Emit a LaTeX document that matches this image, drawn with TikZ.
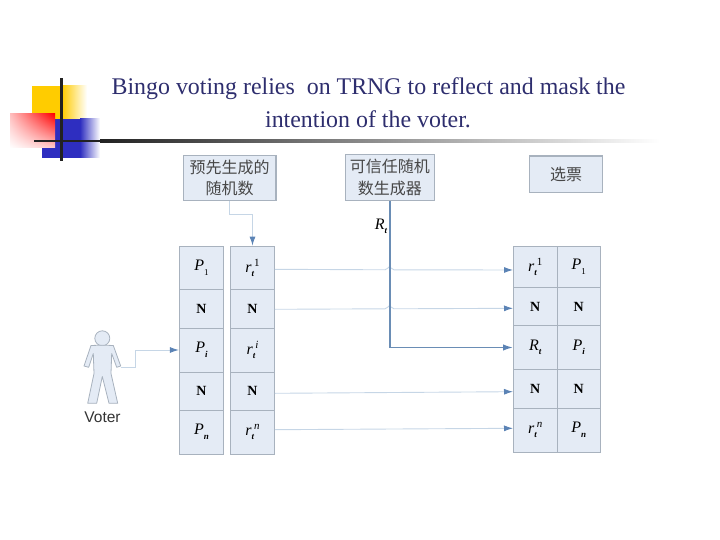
\documentclass[tikz,border=0pt]{standalone}
\usepackage{fontspec}
\setmainfont{Liberation Serif}
\newfontfamily\cjk{Noto Sans CJK SC}
\newfontfamily\lsans{Liberation Sans}
\usetikzlibrary{arrows.meta,shadings}
\definecolor{titleblue}{HTML}{2E2E6E}
\definecolor{cellfill}{HTML}{E4EBF5}
\definecolor{cellline}{HTML}{A8B2BE}
\definecolor{lightwire}{HTML}{C6D6E6}
\definecolor{darkwire}{HTML}{6A8DB5}
\definecolor{tipblue}{HTML}{5B83B5}
\definecolor{decoyellow}{HTML}{FFCC00}
\definecolor{decoblue}{HTML}{2E2EC0}
\definecolor{decodark}{HTML}{222222}
% letter with subscript and superscript
\newcommand{\vr}[3]{{\fontsize{16}{16}\selectfont\itshape #1}\rlap{\raisebox{-4.5pt}{\fontsize{9}{9}\selectfont\itshape\bfseries #2}}\kern2.5pt\raisebox{6pt}{\fontsize{11}{11}\selectfont\itshape #3}}
\newcommand{\vone}[1]{{\fontsize{16}{16}\selectfont\itshape #1}\raisebox{-4.5pt}{\fontsize{9}{9}\selectfont #1}}
\newcommand{\vsub}[2]{{\fontsize{16}{16}\selectfont\itshape #1}\raisebox{-4.5pt}{\fontsize{9}{9}\selectfont\itshape\bfseries #2}}
\newcommand{\vdotsN}{{\fontsize{14}{14}\selectfont\bfseries N}}
\newcommand{\vrone}{{\fontsize{16}{16}\selectfont\itshape r}\rlap{\raisebox{-4.5pt}{\fontsize{9}{9}\selectfont\itshape\bfseries t}}\kern2.5pt\raisebox{6pt}{\fontsize{11}{11}\selectfont 1}}
\newcommand{\vpone}{{\fontsize{16}{16}\selectfont\itshape P}\raisebox{-4.5pt}{\fontsize{9}{9}\selectfont 1}}
\tikzset{
  cell/.style={draw=cellline,fill=cellfill,line width=0.9pt,inner sep=0pt,text=black},
  tbox/.style={draw=cellline,fill=cellfill,line width=1.1pt,inner sep=0pt,align=center,text=black!72,font=\cjk\fontsize{16}{21.5}\selectfont},
  wire/.style={draw=lightwire,line width=0.9pt,-{Latex[length=9pt,width=6pt,color=tipblue]}},
  strongwire/.style={draw=darkwire,line width=1.5pt,-{Latex[length=10pt,width=6.5pt,color=tipblue]}},
  title/.style={text=titleblue,font=\fontsize{23.9}{33}\selectfont,inner sep=0pt,anchor=base},
}
\begin{document}
\begin{tikzpicture}[x=1pt,y=-1pt]
\useasboundingbox (0,0) rectangle (720,540);
% decoration
\fill[decoyellow] (32,86) rectangle (62,119);
\shade[left color=decoyellow,right color=white] (62,86) rectangle (87,119);
\fill[decoblue] (42,119) rectangle (80,158);
\shade[left color=decoblue,right color=white] (80,119) rectangle (100,158);
\shade[upper right=red,upper left=red!25,lower right=red!20,lower left=white] (10,114) rectangle (55,148);
\fill[decodark] (34,139.8) rectangle (100,142.4);
\shade[left color=decodark,right color=white] (100,139.8) rectangle (660,142.4);
\fill[decodark] (59.8,78) rectangle (62.8,160.7);
% title
\node[title] (t1) at (368.5,95) {Bingo voting relies\ \ on TRNG to reflect and mask the};
\node[title] (t2) at (368,128) {intention of the voter.};
% top boxes
\node[tbox,minimum width=92.7pt,minimum height=45pt] (b1) at (229.6,177.8) {预先生成的\\随机数};
\node[tbox,minimum width=89pt,minimum height=45.3pt] (b2) at (389.8,177.6) {可信任随机\\数生成器};
\node[tbox,minimum width=73.4pt,minimum height=36.3pt] (b3) at (566,174.2) {选票};
% left table
\node[cell,minimum width=44.4pt,minimum height=43.5pt] (p1) at (201.5,267.8) {\vpone};
\node[cell,minimum width=44.4pt,minimum height=38.5pt] (p2) at (201.5,308.8) {\vdotsN};
\node[cell,minimum width=44.4pt,minimum height=44pt] (pi) at (201.5,350) {\vsub{P}{i}};
\node[cell,minimum width=44.4pt,minimum height=38pt] (p4) at (201.5,391) {\vdotsN};
\node[cell,minimum width=44.4pt,minimum height=44pt] (pn) at (201.5,432) {\vsub{P}{n}};
\node[cell,minimum width=44pt,minimum height=43.5pt] (r1) at (252.5,267.8) {\vrone};
\node[cell,minimum width=44pt,minimum height=38.5pt] (r2) at (252.5,308.8) {\vdotsN};
\node[cell,minimum width=44pt,minimum height=44pt] (ri) at (252.5,350) {\vr{r}{t}{i}};
\node[cell,minimum width=44pt,minimum height=38pt] (r4) at (252.5,391) {\vdotsN};
\node[cell,minimum width=44pt,minimum height=44pt] (rn) at (252.5,432) {\vr{r}{t}{n}};
% right table
\node[cell,minimum width=43.5pt,minimum height=40.6pt] (s1) at (535.2,267) {\vrone};
\node[cell,minimum width=43.5pt,minimum height=38.4pt] (s2) at (535.2,306.5) {\vdotsN};
\node[cell,minimum width=43.5pt,minimum height=43.6pt] (s3) at (535.2,347.5) {\vsub{R}{t}};
\node[cell,minimum width=43.5pt,minimum height=38.7pt] (s4) at (535.2,388.7) {\vdotsN};
\node[cell,minimum width=43.5pt,minimum height=44pt] (s5) at (535.2,430) {\vr{r}{t}{n}};
\node[cell,minimum width=43pt,minimum height=40.6pt] (q1) at (578.7,267) {\vpone};
\node[cell,minimum width=43pt,minimum height=38.4pt] (q2) at (578.7,306.5) {\vdotsN};
\node[cell,minimum width=43pt,minimum height=43.6pt] (q3) at (578.7,347.5) {\vsub{P}{i}};
\node[cell,minimum width=43pt,minimum height=38.7pt] (q4) at (578.7,388.7) {\vdotsN};
\node[cell,minimum width=43pt,minimum height=44pt] (q5) at (578.7,430) {\vsub{P}{n}};
% voter
\draw[cellline,line width=0.8pt,fill=cellfill] (102.3,338.3) circle (7.5);
\draw[cellline,line width=0.8pt,fill=cellfill,line join=round]
 (97.3,345.3) -- (91,345.5) -- (84,366) -- (88.7,367.3) -- (93.3,353.5) -- (94,373.5) -- (87.7,403.3) -- (96.7,403.3) -- (102.3,376.5) -- (109,403.3) -- (117.7,403.3) -- (111,373.5) -- (111.7,353.5) -- (116.7,367.3) -- (120.7,366) -- (113.3,345.5) -- (107.3,345.3) -- cycle;
\coordinate (hand) at (120.7,367);
\node[font=\lsans\fontsize{15.5}{15.5}\selectfont,text=black!80,inner sep=0pt] (vlabel) at (102.5,417) {Voter};
% connectors
\draw[wire] (hand) -- (135,367) -- (135,350) -- (pi.west);
\draw[wire] (b1.south) -- (229.6,214.3) -- (252.5,214.3) -- (r1.north);
\coordinate (j1a) at (385,269.8);\coordinate (j1b) at (394,269.8);
\coordinate (j2a) at (385,308.8);\coordinate (j2b) at (394,308.8);
\draw[wire] ([yshift=-1.5pt]r1.east) -- (j1a) .. controls (388,269.8) and (388,266.5) .. (389.5,266.5) .. controls (391,266.5) and (391,269.8) .. (j1b) -- ([yshift=-3pt]s1.west);
\draw[wire] ([yshift=-0.5pt]r2.east) -- (j2a) .. controls (388,308.8) and (388,305.5) .. (389.5,305.5) .. controls (391,305.5) and (391,308.8) .. (j2b) -- ([yshift=-1.8pt]s2.west);
\draw[wire] ([yshift=-2.3pt]r4.east) -- ([yshift=-3pt]s4.west);
\draw[wire] ([yshift=2.3pt]rn.east) -- ([yshift=1.7pt]s5.west);
\draw[strongwire] (b2.south) -- (b2.south |- s3.west) -- (s3.west);
\node[inner sep=0pt] (rtlabel) at (381,226.5) {\vsub{R}{t}};
\end{tikzpicture}
\end{document}
